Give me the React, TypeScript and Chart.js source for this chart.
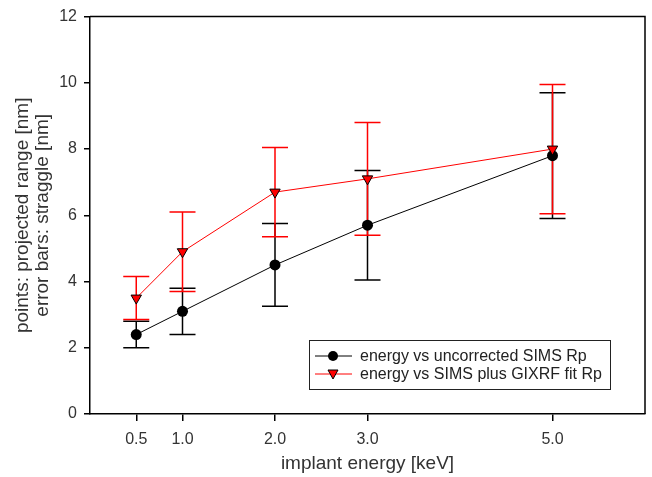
import React, { useEffect, useRef } from 'react';
import { Chart, registerables } from 'chart.js';
Chart.register(...registerables);

const energies = [0.5, 1.0, 2.0, 3.0, 5.0];
const xTickLabels = ['0.5', '1.0', '2.0', '3.0', '5.0'];
const yTicks = [0, 2, 4, 6, 8, 10, 12];
const rpUncorrected = [2.4, 3.1, 4.5, 5.7, 7.8];
const rpUncorrectedLow = [2.0, 2.4, 3.25, 4.05, 5.9];
const rpUncorrectedHigh = [2.8, 3.8, 5.75, 7.35, 9.7];
const rpGixrf = [3.5, 4.9, 6.7, 7.1, 8.0];
const rpGixrfLow = [2.85, 3.7, 5.35, 5.4, 6.05];
const rpGixrfHigh = [4.15, 6.1, 8.05, 8.8, 9.95];
const seriesLabels = ['energy vs uncorrected SIMS Rp', 'energy vs SIMS plus GIXRF fit Rp'];
const xTitle = 'implant energy [keV]';
const yTitle = ['points: projected range [nm]', 'error bars: straggle [nm]'];

const FONT = '"Liberation Sans", Arial, sans-serif';

const errorBars = [
  { low: rpUncorrectedLow, high: rpUncorrectedHigh, color: '#000000' },
  { low: rpGixrfLow, high: rpGixrfHigh, color: '#ff0000' },
];

const errorBarPlugin = {
  id: 'errorBars',
  beforeDatasetsDraw(chart: any) {
    const { ctx, scales } = chart;
    const xs = scales.x, ys = scales.y;
    ctx.save();
    ctx.lineWidth = 1.5;
    errorBars.forEach((eb) => {
      ctx.strokeStyle = eb.color;
      energies.forEach((e, j) => {
        const x = xs.getPixelForValue(e);
        const yl = ys.getPixelForValue(eb.low[j]);
        const yh = ys.getPixelForValue(eb.high[j]);
        ctx.beginPath();
        ctx.moveTo(x, yl);
        ctx.lineTo(x, yh);
        ctx.moveTo(x - 13, yl);
        ctx.lineTo(x + 13, yl);
        ctx.moveTo(x - 13, yh);
        ctx.lineTo(x + 13, yh);
        ctx.stroke();
      });
    });
    ctx.restore();
  },
};

const framePlugin = {
  id: 'frameAndLegend',
  afterDraw(chart: any) {
    const { ctx, chartArea } = chart;
    ctx.save();
    ctx.strokeStyle = '#000';
    ctx.lineWidth = 1.5;
    ctx.beginPath();
    ctx.moveTo(chartArea.left, chartArea.top);
    ctx.lineTo(chartArea.right, chartArea.top);
    ctx.lineTo(chartArea.right, chartArea.bottom);
    ctx.stroke();

    // legend
    const bx = 309, by = 340, bw = 301, bh = 49;
    ctx.lineWidth = 1;
    ctx.fillStyle = '#fff';
    ctx.fillRect(bx, by, bw, bh);
    ctx.strokeStyle = '#222';
    ctx.strokeRect(bx + 0.5, by + 0.5, bw, bh);
    const rows = [356, 374];
    ctx.font = `16px ${FONT}`;
    ctx.textBaseline = 'middle';
    ctx.textAlign = 'left';
    seriesLabels.forEach((label, i) => {
      const y = rows[i];
      ctx.strokeStyle = i === 0 ? '#000' : '#ff0000';
      ctx.lineWidth = 1;
      ctx.beginPath();
      ctx.moveTo(315, y);
      ctx.lineTo(352, y);
      ctx.stroke();
      if (i === 0) {
        ctx.fillStyle = '#000';
        ctx.beginPath();
        ctx.arc(333, y, 5, 0, Math.PI * 2);
        ctx.fill();
      } else {
        ctx.fillStyle = '#ff0000';
        ctx.strokeStyle = '#000';
        ctx.beginPath();
        ctx.moveTo(328, y - 4);
        ctx.lineTo(338, y - 4);
        ctx.lineTo(333, y + 5);
        ctx.closePath();
        ctx.fill();
        ctx.stroke();
      }
      ctx.fillStyle = '#222';
      ctx.fillText(label, 360, y + 1);
    });
    ctx.restore();
  },
};

export default function App() {
  const ref = useRef<HTMLCanvasElement>(null);
  useEffect(() => {
    if (!ref.current) return;
    const chart = new Chart(ref.current, {
      type: 'line',
      data: {
        datasets: [
          {
            label: seriesLabels[1],
            data: energies.map((e, i) => ({ x: e, y: rpGixrf[i] })),
            borderColor: '#ff0000',
            borderWidth: 1,
            backgroundColor: '#ff0000',
            pointStyle: 'triangle',
            rotation: 180,
            pointRadius: 6,
            pointBorderColor: '#000',
            pointBorderWidth: 1,
            pointBackgroundColor: '#ff0000',
            order: 0,
          },
          {
            label: seriesLabels[0],
            data: energies.map((e, i) => ({ x: e, y: rpUncorrected[i] })),
            borderColor: '#000',
            borderWidth: 1,
            backgroundColor: '#000',
            pointStyle: 'circle',
            pointRadius: 5.5,
            pointBorderWidth: 0,
            pointBackgroundColor: '#000',
            order: 1,
          },
        ],
      },
      options: {
        animation: false,
        responsive: false,
        layout: { padding: { left: 0, top: 12, right: 6, bottom: 0 } },
        plugins: { legend: { display: false }, tooltip: { enabled: false } },
        scales: {
          x: {
            type: 'linear',
            min: 0,
            max: 6,
            afterBuildTicks: (scale: any) => {
              scale.ticks = energies.map((v) => ({ value: v }));
            },
            afterFit: (scale: any) => {
              scale.height = 63;
            },
            ticks: {
              autoSkip: false,
              maxRotation: 0,
              padding: 9,
              color: '#333',
              font: { family: FONT, size: 16 },
              callback: (_v: any, i: number) => xTickLabels[i],
            },
            grid: { display: true, drawOnChartArea: false, drawTicks: true, tickLength: 7, color: '#000', lineWidth: 1.5 },
            border: { display: true, color: '#000', width: 1.5 },
            title: {
              display: true,
              text: xTitle,
              color: '#333',
              font: { family: FONT, size: 19, lineHeight: 1.05 },
              padding: { top: 0, bottom: 3 },
            },
          },
          y: {
            type: 'linear',
            min: 0,
            max: 12,
            afterBuildTicks: (scale: any) => {
              scale.ticks = yTicks.map((v) => ({ value: v }));
            },
            afterFit: (scale: any) => {
              scale.width = 90;
            },
            ticks: {
              padding: 7,
              color: '#333',
              font: { family: FONT, size: 16 },
              callback: (v: any) => String(v),
            },
            grid: { display: true, drawOnChartArea: false, drawTicks: true, tickLength: 6, color: '#000', lineWidth: 1.5 },
            border: { display: true, color: '#000', width: 1.5 },
            title: {
              display: true,
              text: yTitle,
              color: '#333',
              font: { family: FONT, size: 19, lineHeight: 1.05 },
              padding: { top: 13, bottom: 0 },
            },
          },
        },
      },
      plugins: [errorBarPlugin, framePlugin],
    });
    return () => chart.destroy();
  }, []);
  return (
    <div style={{ position: 'absolute', left: 0, top: 0, width: 652, height: 477, background: '#fff' }}>
      <canvas ref={ref} width={652} height={477} style={{ display: 'block' }} />
    </div>
  );
}
